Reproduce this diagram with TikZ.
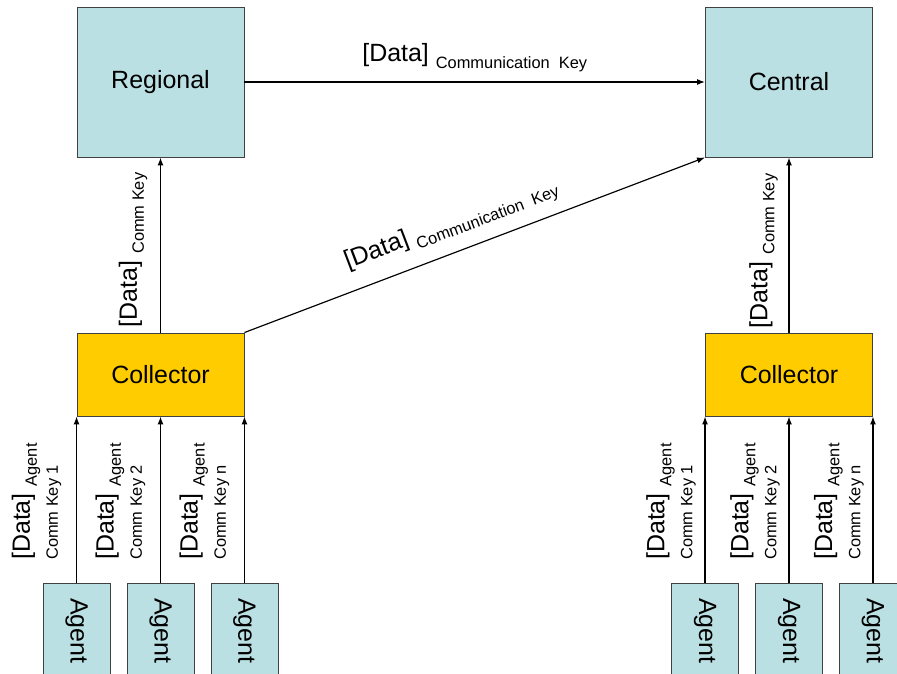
\documentclass[tikz,border=0pt]{standalone}
\usepackage{fontspec}
\setmainfont{Liberation Sans}
\usetikzlibrary{arrows.meta}

\definecolor{tealbox}{RGB}{187,224,227}
\definecolor{collyellow}{RGB}{255,204,0}

\newcommand{\bigtxt}{\fontsize{21.3pt}{24pt}\selectfont}
\newcommand{\smalltxt}{\fontsize{14pt}{16pt}\selectfont}
\newcommand{\keylbl}[1]{[Data] \raisebox{-6pt}{\smalltxt #1}}

\tikzset{
  box/.style={draw=black!75, line width=.8pt, inner sep=0pt, font=\bigtxt},
  server/.style={box, fill=tealbox, minimum width=5.01cm, minimum height=4.5cm},
  collector/.style={box, fill=collyellow, minimum width=5.01cm, minimum height=2.49cm},
  agent/.style={box, fill=tealbox, minimum width=2.01cm, minimum height=3.6cm, anchor=north},
  agtxt/.style={rotate=-90, anchor=west, inner sep=0pt, font=\bigtxt},
  keytxt/.style={inner sep=0pt, font=\bigtxt},
  vkey/.style={keytxt, rotate=90, anchor=south west, align=left},
  flow/.style={-{Latex[length=2.4mm,width=1.8mm]}, line width=1pt},
}

\begin{document}
\begin{tikzpicture}[x=0.03cm, y=-0.03cm]
  \clip (0,0) rectangle (897,674);
  % servers and collectors
  \node (reg) [server] at (160.5,82) {Regional};
  \node (cen) [server] at (789,82) {Central};
  \node (colL) [collector] at (160.5,374.5) {Collector};
  \node (colR) [collector] at (789,374.5) {Collector};
  % agents feeding the collectors
  \foreach \side/\gap in {L/-15,R/-9} {
    \foreach \i/\a/\k in {1/south west/1,2/south/2,3/south east/n} {
      \node (ag\side\i) [agent] at (col\side.\a |- 0,583) {};
      \path (ag\side\i.north) ++(0,15) node (agt\side\i) [agtxt] {Agent};
      \draw[flow] (ag\side\i.north) -- (col\side.\a);
      \path (ag\side\i.north) ++(\gap,-23)
        node (key\side\i) [vkey] {\keylbl{Agent}\\{\smalltxt Comm Key \k}};
    }
  }
  % collectors to servers
  \draw[flow] (colL.north) -- (reg.south);
  \path (colL.north) ++(-13,-5) node (keyReg) [vkey] {\keylbl{Comm Key}};
  \draw[flow] (colR.north) -- (cen.south);
  \path (colR.north) ++(-11,-4) node (keyCen) [vkey] {\keylbl{Comm Key}};
  \draw[flow] (colL.north east) --
    node (keyDiag) [keytxt, sloped, above=10pt, pos=.47] {\keylbl{Communication~ Key}}
    (cen.south west);
  % regional to central
  \draw[flow] (reg.east) --
    node (keyTop) [keytxt, above=8pt] {\keylbl{Communication~ Key}}
    (cen.west);
\end{tikzpicture}
\end{document}
